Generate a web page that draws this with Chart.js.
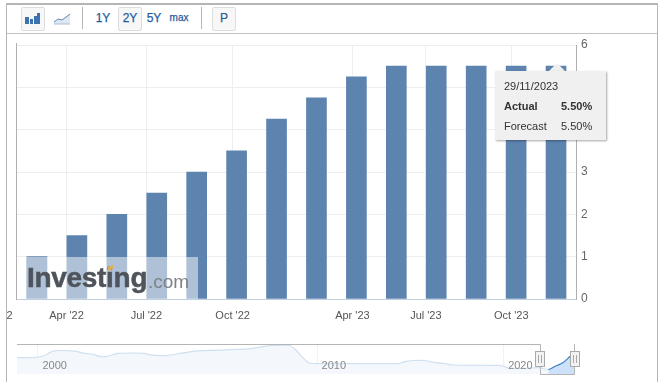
<!DOCTYPE html>
<html><head><meta charset="utf-8">
<script src="https://cdn.jsdelivr.net/npm/chart.js@4/dist/chart.umd.min.js"></script>
<style>
html,body{margin:0;padding:0;background:#fff;width:668px;height:382px;overflow:hidden;font-family:"Liberation Sans",Arial,sans-serif}
.a{position:absolute;box-sizing:border-box}
canvas{position:absolute;left:0;top:0}
.btn{position:absolute;top:7px;height:22px;color:#1f5c9e;font-size:12px;line-height:22px;text-align:center;-webkit-text-stroke:.25px #1f5c9e}
.box{border:1px solid #ddd;border-radius:2px;background:#f7f7f7;line-height:20px}
.sep{position:absolute;top:7px;width:1px;height:22px;background:#b5b5b5}
.tip div{position:absolute;font-size:11px;color:#333;white-space:nowrap;line-height:14px}
.handle{position:absolute;top:351px;width:10px;height:16px;background:#f2f2f2;border:1px solid #aaa;box-sizing:border-box}
.handle:before{content:"";position:absolute;left:2px;top:3px;width:2px;height:8px;border-left:1px solid #aaa;border-right:1px solid #aaa}
</style></head><body>
<div class="btn box" style="left:21px;width:22px"><svg width="20" height="20" style="display:block"><path d="M3 9h4v7H3zM8 11h3v5H8zM12 8h3v8h-3z" fill="#3d74b0"/><path d="M16 5h3v11h-3z" fill="#3d74b0" transform="translate(-1 0)"/></svg></div>
<div class="btn" style="left:53px;width:18px"><svg width="18" height="22" style="display:block"><path d="M1 15l4-3 4 1 4-3 4-3v10H1z" fill="#dfe8f2"/><path d="M1 15l4-3 4 1 4-3 4-3" fill="none" stroke="#5d8ab8" stroke-width="1"/><path d="M1 17h16" stroke="#a9c0d8"/></svg></div>
<div class="sep" style="left:82px"></div>
<div class="btn" style="left:92px;width:22px">1Y</div>
<div class="btn box" style="left:118px;width:22px">2Y</div>
<div class="btn" style="left:143px;width:22px">5Y</div>
<div class="btn" style="left:168px;width:22px;font-size:10px">max</div>
<div class="sep" style="left:201px"></div>
<div class="btn box" style="left:212px;width:22px">P</div>

<div style="position:absolute;left:0;top:0;width:668px;height:382px"><canvas id="main" width="668" height="382"></canvas></div>
<div class="a" style="left:0;top:300px;width:6px;height:40px;background:#fff"></div>
<div class="a" style="left:6px;top:3px;width:652px;height:385px;border:1px solid #b5b5b5;border-width:2px 1px 0 1px"></div>
<div class="a" style="left:7px;top:33px;width:650px;height:1px;background:#c4c4c4"></div>
<div class="a" style="left:16px;top:43px;width:1px;height:257px;background:#b0b0b0"></div>

<div class="a" style="left:27px;top:257px;width:171px;height:42px;background:rgba(255,255,255,.5)"></div>
<div class="a" style="left:27px;top:262px;font-size:28px;line-height:32px;font-weight:bold;color:#4f545c;letter-spacing:-.3px;white-space:nowrap;-webkit-text-stroke:.5px #4f545c">Investing</div>
<div class="a" style="left:148px;top:270px;font-size:19px;line-height:24px;color:#7d8288;white-space:nowrap">.com</div>
<div class="a" style="left:108px;top:266px;width:5px;height:4px;background:#e0ae58;transform:skewY(-25deg)"></div>

<div style="position:absolute;left:17px;top:340px;width:560px;height:40px"><canvas id="nav" width="560" height="40"></canvas></div>
<div class="a" style="left:17px;top:344px;width:524px;height:1px;background:#b5b5b5"></div>
<div class="a" style="left:540px;top:344px;width:1px;height:31px;background:#b5b5b5"></div>
<div class="a" style="left:540px;top:374px;width:35px;height:1px;background:#b5b5b5"></div>
<div class="a" style="left:574px;top:344px;width:1px;height:31px;background:#b5b5b5"></div>
<div class="handle" style="left:535px"></div>
<div class="handle" style="left:570px"></div>

<svg class="a" style="left:549px;top:63px" width="16" height="9"><path d="M0 8L8 0L16 8z" fill="#f0f0f0"/></svg>
<div class="a tip" id="tip" style="left:495px;top:71px;width:111px;height:69px;background:#f0f0f0;box-shadow:1px 1px 2px rgba(0,0,0,.35)">
<div id="tDate" style="left:9px;top:8px"></div>
<div style="left:9px;top:28px;font-weight:bold">Actual</div>
<div id="tAct" style="left:66px;top:28px;font-weight:bold"></div>
<div style="left:9px;top:48px">Forecast</div>
<div id="tFc" style="left:66px;top:48px"></div>
</div>
<script>
const categories=["23/02/2022","13/04/2022","25/05/2022","13/07/2022","17/08/2022","05/10/2022","23/11/2022","22/02/2023","05/04/2023","24/05/2023","12/07/2023","16/08/2023","04/10/2023","29/11/2023"];
const actualValues=[1,1.5,2,2.5,3,3.5,4.25,4.75,5.25,5.5,5.5,5.5,5.5,5.5];
const forecastLast=5.5;
const xTickPositions=[-1.05,0.74,2.74,4.9,7.9,9.74,11.88];
const xTickLabels=["Jan '22","Apr '22","Jul '22","Oct '22","Apr '23","Jul '23","Oct '23"];
const yTicks=[0,1,2,3,4,5,6];
const navX=[0,3,4.7,6,9.7,11.3,12.5,13.8,15,16.8,19.7,21.3,22.2,24.7,27.2,29.7,32.2,38.8,41.8,45.5,46.5,47.7,48.5,49.2,55,63.8,64.7,66.3,68,69.7,71.3,73,80.5,81.3,82.2,84.7,87.2,88.7,89.8,91.2,92.5,93];
const navValues=[4.25,4.25,5,6.4,6.4,5.6,5.4,4.6,4.6,5.6,5.75,5.6,5.1,4.9,5.6,6.4,6.6,7.1,8.1,8.25,6.9,4.25,2.75,2.25,2.25,2.25,2.9,3.25,3.25,2.6,2.25,1.75,1.6,1.25,0.75,0.6,0.9,0.25,1.25,2.6,4.9,5.5];
const navTickPositions=[3.5,50.1,81.25];
const navTickLabels=["2000","2010","2020"];
const navSelectedFrom=37;

const font='"Liberation Sans",Arial,sans-serif';
const fixSides=(h,w)=>s=>{ if(h!=null)s.height=h; if(w!=null)s.width=w; s.paddingLeft=s.paddingRight=s.paddingTop=s.paddingBottom=0; };

new Chart(document.getElementById('main'),{
 type:'bar',
 data:{datasets:[{data:categories.map((c,i)=>({x:i,y:actualValues[i]})),backgroundColor:'#5d83af',barThickness:20}]},
 options:{responsive:false,animation:false,
  layout:{padding:{top:45,left:17,right:0,bottom:0}},
  plugins:{legend:{display:false},tooltip:{enabled:false}},
  scales:{
   x:{type:'linear',min:-0.5,max:13.5,bounds:'data',offset:false,
      grid:{color:'#eeeeee',drawTicks:false,lineWidth:1,offset:false},
      border:{color:'#c0d0e0',width:1},
      afterBuildTicks:s=>{s.ticks=xTickPositions.map(v=>({value:v}));},
      afterFit:fixSides(83,null),
      ticks:{autoSkip:false,maxRotation:0,padding:10,color:'#555',font:{size:11,family:font},
        callback:(v,i)=>xTickLabels[i]}},
   y:{position:'right',min:0,max:6,bounds:'data',
      grid:{color:'#eeeeee',drawTicks:false},
      border:{color:'#b0b0b0',width:1},
      afterBuildTicks:s=>{s.ticks=yTicks.map(v=>({value:v}));},
      afterFit:fixSides(null,92),
      ticks:{padding:5,color:'#666',font:{size:12,family:font},callback:v=>String(v)}}
  }}
});

const navLabelPlugin={id:'navLabels',afterDatasetsDraw(chart){
  const {ctx,scales:{x}}=chart;
  ctx.save();
  ctx.font='11px '+font;ctx.fillStyle='#888';ctx.textAlign='left';ctx.textBaseline='middle';
  navTickPositions.forEach((v,i)=>ctx.fillText(navTickLabels[i],x.getPixelForValue(v)+4.5,26));
  ctx.restore();
}};
new Chart(document.getElementById('nav'),{
 type:'line',
 data:{datasets:[{data:navX.map((x,i)=>({x,y:navValues[i]})),pointRadius:0,borderWidth:1.2,tension:0.25,fill:'start',
   borderColor:'#cfe0f0',backgroundColor:'#f4f8fd',
   segment:{
    borderColor:c=>c.p0DataIndex>=navSelectedFrom?'#3f7fbf':'#cfe0f0',
    backgroundColor:c=>c.p0DataIndex>=navSelectedFrom?'#cde2fa':'#f4f8fd'}}]},
 plugins:[navLabelPlugin],
 options:{responsive:false,animation:false,
  layout:{padding:{top:4,left:0,right:3,bottom:0}},
  plugins:{legend:{display:false},tooltip:{enabled:false}},
  scales:{
   x:{type:'linear',min:0,max:93,bounds:'data',offset:false,
      grid:{color:'#f2f2f2',drawTicks:false},border:{display:false},
      afterBuildTicks:s=>{s.ticks=navTickPositions.map(v=>({value:v}));},
      afterFit:fixSides(6,null),
      ticks:{display:false}},
   y:{display:false,min:-1.25,max:8.75}
  }}
});

const last=categories.length-1;
document.getElementById('tDate').textContent=categories[last];
document.getElementById('tAct').textContent=actualValues[last].toFixed(2)+'%';
document.getElementById('tFc').textContent=forecastLast.toFixed(2)+'%';
</script>
</body></html>
